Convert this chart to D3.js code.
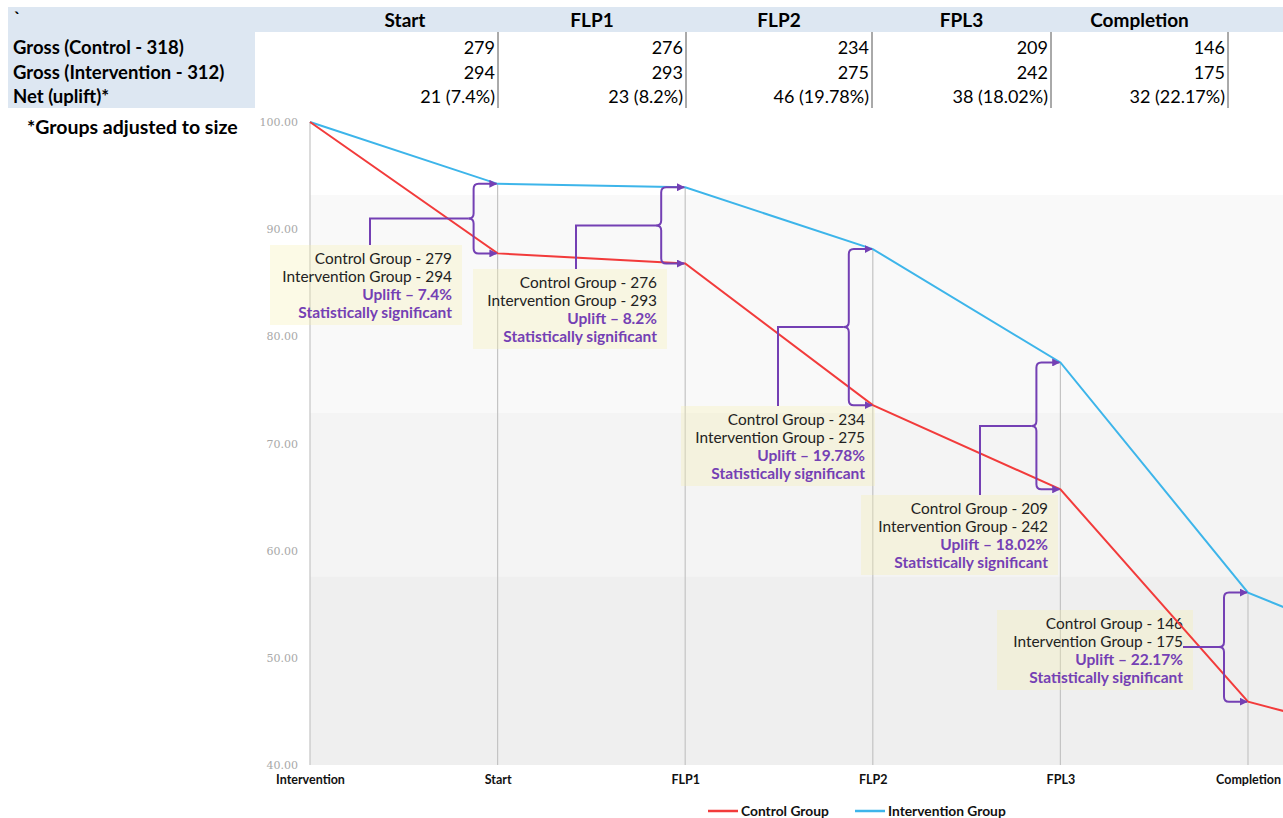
<!DOCTYPE html>
<html><head><meta charset="utf-8">
<script src="https://cdn.jsdelivr.net/npm/d3@7"></script>
<style>
html,body{margin:0;padding:0;background:#fff;}
svg{display:block;}
</style></head>
<body>
<svg id="chart" width="1283" height="818"></svg>
<script>
// ---- data ----
const categories = ["Intervention", "Start", "FLP1", "FLP2", "FPL3", "Completion", ""];
const controlPct = [100, 87.74, 86.79, 73.58, 65.72, 45.91, 41.3];
const interventionPct = [100, 94.23, 93.91, 88.14, 77.56, 56.09, 48.9];
const yTicks = [40, 50, 60, 70, 80, 90, 100];
const bandEdges = [100, 93.2, 72.85, 57.55, 40];

const tableHeaders = ["Start", "FLP1", "FLP2", "FPL3", "Completion"];
const rowLabels = ["Gross (Control - 318)", "Gross (Intervention - 312)", "Net (uplift)*"];
const grossControl = [279, 276, 234, 209, 146];
const grossIntervention = [294, 293, 275, 242, 175];
const netUplift = [21, 23, 46, 38, 32];
const upliftPct = ["7.4%", "8.2%", "19.78%", "18.02%", "22.17%"];
const seriesNames = ["Control Group", "Intervention Group"];

// ---- style / layout ----
const RED = "#f23b3b", BLUE = "#3db5ea", PURPLE = "#7440b4";
const bandColors = ["#ffffff", "#f9f9f9", "#f4f4f4", "#efefef"];
const svg = d3.select("#chart");

const x = d3.scaleLinear().domain([0, 6]).range([310, 310 + 187.6 * 6]);
const y = d3.scaleLinear().domain([40, 100]).range([765, 122]);

// ---- table ----
const tableCols = [312, 498, 686, 872, 1051, 1228];
svg.append("rect").attr("x", 8).attr("y", 7).attr("width", 1275).attr("height", 25).attr("fill", "#dde7f2");
svg.append("rect").attr("x", 8).attr("y", 32).attr("width", 247).attr("height", 76).attr("fill", "#dde7f2");
svg.append("text").attr("x", 14).attr("y", 24).attr("font-family", "Lato").attr("font-size", 17).attr("font-weight", "bold").text("`");
svg.selectAll(".th").data(tableHeaders).join("text")
  .attr("x", (d, i) => (tableCols[i] + tableCols[i + 1]) / 2).attr("y", 27)
  .attr("text-anchor", "middle").attr("font-family", "Lato").attr("font-weight", "bold").attr("font-size", 19)
  .text(d => d);
const rowY = [54, 79, 103];
svg.selectAll(".rl").data(rowLabels).join("text")
  .attr("x", 13).attr("y", (d, i) => rowY[i])
  .attr("font-family", "Lato").attr("font-weight", "bold").attr("font-size", 18.5).text(d => d);
const rows = [grossControl.map(String), grossIntervention.map(String), netUplift.map((n, i) => `${n} (${upliftPct[i]})`)];
rows.forEach((r, ri) => {
  svg.selectAll(".r" + ri).data(r).join("text")
    .attr("x", (d, i) => tableCols[i + 1] - 3).attr("y", rowY[ri])
    .attr("text-anchor", "end").attr("font-family", "Lato").attr("font-size", 18).text(d => d);
});
svg.selectAll(".div").data(tableCols.slice(1)).join("line")
  .attr("x1", d => d).attr("x2", d => d).attr("y1", 32).attr("y2", 108)
  .attr("stroke", "#555").attr("stroke-width", 1);
svg.append("text").attr("x", 27).attr("y", 134).attr("font-family", "Lato").attr("font-weight", "bold")
  .attr("font-size", 19.5).text("*Groups adjusted to size");

// ---- background bands ----
const g = svg.append("g");
g.selectAll(".band").data(bandColors).join("rect")
  .attr("x", x(0)).attr("width", 1283 - x(0))
  .attr("y", (d, i) => y(bandEdges[i])).attr("height", (d, i) => y(bandEdges[i + 1]) - y(bandEdges[i]))
  .attr("fill", d => d);

// drop lines
g.selectAll(".drop").data(d3.range(6)).join("line")
  .attr("x1", i => x(i)).attr("x2", i => x(i))
  .attr("y1", i => y(Math.max(controlPct[i], interventionPct[i]))).attr("y2", y(40))
  .attr("stroke", "#c4c4c4").attr("stroke-width", 1.2);

// axes
const yAx = g.append("g").attr("transform", `translate(${x(0)},0)`)
  .call(d3.axisLeft(y).tickValues(yTicks).tickFormat(d3.format(".2f")).tickSize(0).tickPadding(12));
yAx.select(".domain").remove();
yAx.selectAll("text").attr("font-family", "DejaVu Serif").attr("font-size", 11).attr("fill", "#a8a8a8");

const xAx = g.append("g").attr("transform", `translate(0,${y(40)})`)
  .call(d3.axisBottom(x).tickValues(d3.range(6)).tickFormat(i => categories[i]).tickSize(0).tickPadding(10));
xAx.select(".domain").remove();
xAx.selectAll("text").attr("font-family", "Lato").attr("font-weight", "bold").attr("font-size", 12.5).attr("fill", "#111");

// ---- annotation boxes ----
const annLayout = [
  {left: 270, top: 245, w: 192, connX: 370},
  {left: 473, top: 269, w: 194, connX: 576},
  {left: 681, top: 406, w: 194, connX: 778},
  {left: 861, top: 495, w: 197, connX: 980},
  {left: 997, top: 610, w: 196, connX: null}
];
annLayout.forEach((L, k) => {
  const ga = g.append("g");
  ga.append("rect").attr("x", L.left).attr("y", L.top).attr("width", L.w).attr("height", 80)
    .attr("fill", "#f5f0b0").attr("opacity", 0.32);
  const lines = [
    {t: `${seriesNames[0]} - ${grossControl[k]}`, c: "#222", b: false},
    {t: `${seriesNames[1]} - ${grossIntervention[k]}`, c: "#222", b: false},
    {t: `Uplift \u2013 ${upliftPct[k]}`, c: PURPLE, b: true},
    {t: "Statistically significant", c: PURPLE, b: true}
  ];
  lines.forEach((ln, j) => {
    ga.append("text").attr("x", L.left + L.w - 10).attr("y", L.top + 19 + j * 18)
      .attr("text-anchor", "end").attr("font-family", "Lato").attr("font-size", ln.b ? 15.5 : 15.4)
      .attr("font-weight", ln.b ? "bold" : "normal").attr("fill", ln.c).text(ln.t);
  });
});

// ---- lines ----
const line = d3.line().x((d, i) => x(i)).y(d => y(d));
g.append("path").datum(interventionPct).attr("d", line).attr("fill", "none").attr("stroke", BLUE).attr("stroke-width", 2);
g.append("path").datum(controlPct).attr("d", line).attr("fill", "none").attr("stroke", RED).attr("stroke-width", 2);

// ---- brackets ----
svg.append("defs").append("marker").attr("id", "arr").attr("viewBox", "0 0 10 10")
  .attr("refX", 9).attr("refY", 5).attr("markerWidth", 4).attr("markerHeight", 4).attr("orient", "auto")
  .append("path").attr("d", "M0,0 L10,5 L0,10 z").attr("fill", PURPLE);

annLayout.forEach((L, k) => {
  const i = k + 1;
  const xt = x(i) - 1;
  const xb = x(i) - 24;
  const yT = y(interventionPct[i]), yB = y(controlPct[i]);
  const ym = (yT + yB) / 2;
  const r = 5;
  const top = `M${xb - r},${ym} Q${xb},${ym} ${xb},${ym - r} V${yT + r} Q${xb},${yT} ${xb + r},${yT} H${xt}`;
  const bot = `M${xb - r},${ym} Q${xb},${ym} ${xb},${ym + r} V${yB - r} Q${xb},${yB} ${xb + r},${yB} H${xt}`;
  [top, bot].forEach(d => g.append("path").attr("d", d).attr("fill", "none").attr("stroke", PURPLE)
    .attr("stroke-width", 2).attr("marker-end", "url(#arr)"));
  let conn;
  if (L.connX !== null) conn = `M${xb - r},${ym} H${L.connX} V${L.top}`;
  else conn = `M${xb - r},${ym} H${L.left + L.w - 10}`;
  g.append("path").attr("d", conn).attr("fill", "none").attr("stroke", PURPLE).attr("stroke-width", 2);
});

// ---- legend ----
const legend = [{n: seriesNames[0], c: RED, x: 708}, {n: seriesNames[1], c: BLUE, x: 855}];
legend.forEach(l => {
  svg.append("line").attr("x1", l.x).attr("x2", l.x + 30).attr("y1", 811).attr("y2", 811)
    .attr("stroke", l.c).attr("stroke-width", 2.5);
  svg.append("text").attr("x", l.x + 33).attr("y", 815.5).attr("font-family", "Lato").attr("font-weight", "bold")
    .attr("font-size", 13.8).attr("fill", "#111").text(l.n);
});
</script>
</body></html>
